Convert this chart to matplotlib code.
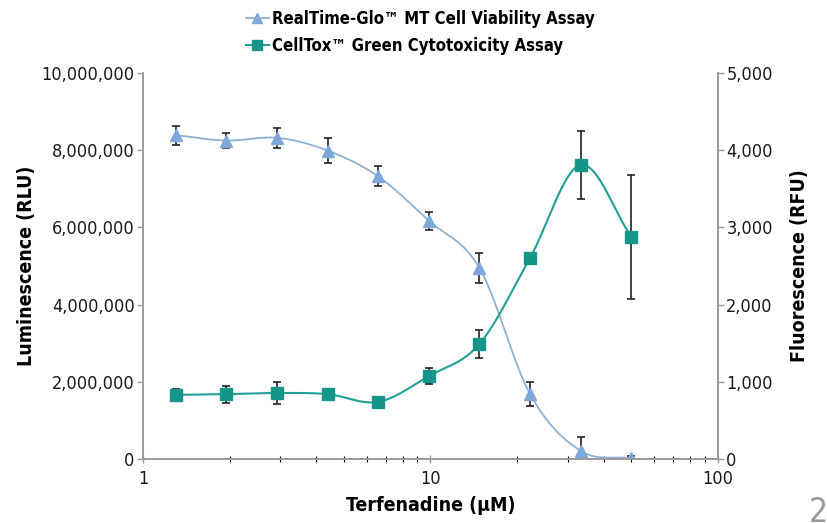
import numpy as np
import matplotlib
matplotlib.use("Agg")
import matplotlib.pyplot as plt
from matplotlib.lines import Line2D
from matplotlib.ticker import FuncFormatter, LogLocator, NullFormatter

# Terfenadine dose (uM)
conc = [1.3, 1.95, 2.93, 4.39, 6.58, 9.88, 14.8, 22.2, 33.3, 50.0]

# RealTime-Glo viability, luminescence (RLU)
lum = [8.39e6, 8.25e6, 8.32e6, 7.99e6, 7.32e6, 6.17e6, 4.95e6, 1.68e6, 0.21e6, 0.02e6]
lum_err = [0.25e6, 0.19e6, 0.26e6, 0.32e6, 0.26e6, 0.23e6, 0.39e6, 0.32e6, 0.35e6, 0.06e6]

# CellTox Green cytotoxicity, fluorescence (RFU)
fluo = [830, 840, 855, 840, 740, 1075, 1490, 2605, 3810, 2875]
fluo_err = [75, 110, 140, 25, 40, 110, 180, 0, 440, 800]

lum_ticks = [0, 2e6, 4e6, 6e6, 8e6, 10e6]
fluo_ticks = [0, 1000, 2000, 3000, 4000, 5000]

FONT = ['Liberation Sans Narrow', 'DejaVu Sans']
plt.rcParams['font.family'] = FONT
plt.rcParams['font.stretch'] = 'condensed'
AXC = '#9a9a9a'


def smooth(xs, ys, n=30):
    # catmull-rom through the points, in log-x space
    lx = np.log10(xs)
    ys = np.asarray(ys, float)
    px = np.concatenate([[2 * lx[0] - lx[1]], lx, [2 * lx[-1] - lx[-2]]])
    py = np.concatenate([[2 * ys[0] - ys[1]], ys, [2 * ys[-1] - ys[-2]]])
    ox, oy = [], []
    t = np.linspace(0, 1, n)
    for i in range(1, len(px) - 2):
        for arr, out in ((px, ox), (py, oy)):
            p0, p1, p2, p3 = arr[i - 1], arr[i], arr[i + 1], arr[i + 2]
            out.extend(0.5 * ((2 * p1) + (-p0 + p2) * t
                              + (2 * p0 - 5 * p1 + 4 * p2 - p3) * t ** 2
                              + (-p0 + 3 * p1 - 3 * p2 + p3) * t ** 3))
    return 10 ** np.array(ox), np.array(oy)


fig = plt.figure(figsize=(8.27, 5.23), dpi=100, facecolor='white')
ax = fig.add_axes([0.1729, 0.1224, 0.6953, 0.738])
ax2 = ax.twinx()

blue_line, blue_mk = '#8fb1d4', '#7ea8da'
teal_line, teal_mk = '#23a096', '#16958b'

# luminescence
sx, sy = smooth(conc, lum)
ax.plot(sx, np.clip(sy, 0, None), color=blue_line, lw=1.3, zorder=3)
ax.errorbar(conc, lum, yerr=lum_err, fmt='none', ecolor='#222222', elinewidth=1.2,
            capsize=3, capthick=1.2, zorder=2)
ax.plot(conc, lum, ls='none', marker='^', ms=8, color=blue_mk, zorder=4)

# fluorescence
sx, sy = smooth(conc, fluo)
ax2.plot(sx, sy, color=teal_line, lw=1.5, zorder=3)
ax2.errorbar(conc, fluo, yerr=fluo_err, fmt='none', ecolor='#222222', elinewidth=1.2,
             capsize=3, capthick=1.2, zorder=2)
ax2.plot(conc, fluo, ls='none', marker='s', ms=8, color=teal_mk, zorder=4)

ax.set_xscale('log')
ax.set_xlim(1, 100)
ax.set_ylim(0, 10e6)
ax2.set_ylim(0, 5000)
ax.set_yticks(lum_ticks)
ax2.set_yticks(fluo_ticks)
ax.yaxis.set_major_formatter(FuncFormatter(lambda v, p: f'{int(v):,}'))
ax2.yaxis.set_major_formatter(FuncFormatter(lambda v, p: f'{int(v):,}'))
ax.xaxis.set_major_formatter(FuncFormatter(lambda v, p: f'{v:g}'))
ax.xaxis.set_minor_locator(LogLocator(base=10, subs=np.arange(2, 10)))
ax.xaxis.set_minor_formatter(NullFormatter())

for a in (ax, ax2):
    a.spines['top'].set_visible(False)
    for s in ('left', 'right', 'bottom'):
        a.spines[s].set_color(AXC)
        a.spines[s].set_linewidth(1.2)
    a.tick_params(colors=AXC, labelcolor='#1a1a1a', labelsize=13)
ax.tick_params(axis='y', length=4, width=1, pad=2)
ax2.tick_params(axis='y', length=4, width=1, pad=2)
ax.tick_params(axis='x', which='major', direction='inout', length=6, width=1, pad=5)
ax.tick_params(axis='x', which='minor', direction='inout', length=4, width=0.8)

ax.set_xlabel('Terfenadine (µM)', fontsize=14, fontweight='bold', labelpad=6)
ax.set_ylabel('Luminescence (RLU)', fontsize=14, fontweight='bold', labelpad=4)
ax2.set_ylabel('Fluorescence (RFU)', fontsize=14, fontweight='bold', labelpad=12,
               rotation=90)

handles = [
    Line2D([], [], color=blue_line, marker='^', ms=7, mfc=blue_mk, mec=blue_mk, lw=1.3),
    Line2D([], [], color=teal_line, marker='s', ms=7, mfc=teal_mk, mec=teal_mk, lw=1.5),
]
labels = ['RealTime-Glo™ MT Cell Viability Assay', 'CellTox™ Green Cytotoxicity Assay']
fig.legend(handles, labels, loc='upper left', bbox_to_anchor=(0.285, 1.0),
           frameon=False, handlelength=1.4, handletextpad=0.2, labelspacing=0.55,
           borderaxespad=0.2,
           prop={'family': FONT, 'weight': 'bold', 'size': 12, 'stretch': 'condensed'})

fig.text(0.978, -0.012, '2', fontsize=24, color='#9a9a9a', ha='left', va='bottom')

fig.savefig('out.png', dpi=100, facecolor='white')
